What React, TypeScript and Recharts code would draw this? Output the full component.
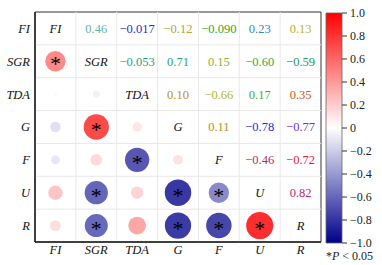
import React from "react";
import {
  ScatterChart,
  Scatter,
  XAxis,
  YAxis,
  ReferenceLine,
  ReferenceArea,
  BarChart,
  Bar,
} from "recharts";

const labels = ["FI", "SGR", "TDA", "G", "F", "U", "R"];

const corr = [
  [1, 0.46, -0.017, -0.12, -0.09, 0.23, 0.13],
  [0.46, 1, -0.053, 0.71, 0.15, -0.6, -0.59],
  [-0.017, -0.053, 1, 0.1, -0.66, 0.17, 0.35],
  [-0.12, 0.71, 0.1, 1, 0.11, -0.78, -0.77],
  [-0.09, 0.15, -0.66, 0.11, 1, -0.46, -0.72],
  [0.23, -0.6, 0.17, -0.78, -0.46, 1, 0.82],
  [0.13, -0.59, 0.35, -0.77, -0.72, 0.82, 1],
];

// significance (p < 0.05), lower triangle [row, col]
const significant = [
  [1, 0],
  [3, 1],
  [4, 2],
  [5, 1],
  [6, 1],
  [5, 3],
  [6, 3],
  [5, 4],
  [6, 4],
  [6, 5],
];

// colours of the numbers in the upper triangle [row][col]
const textColors = [
  ["", "#62b5a0", "#2c2cd0", "#b4a43a", "#2ea82e", "#2f86c8", "#c2b040"],
  ["", "", "#1fa08e", "#2a9e80", "#8eb030", "#3aa83a", "#1e9470"],
  ["", "", "", "#c09020", "#b4b430", "#3cb030", "#c85a20"],
  ["", "", "", "", "#b8901c", "#2c2cd8", "#7030c8"],
  ["", "", "", "", "", "#b02c64", "#e0203c"],
  ["", "", "", "", "", "", "#b82878"],
  ["", "", "", "", "", "", ""],
];

const cbTicks = [-1, -0.8, -0.6, -0.4, -0.2, 0, 0.2, 0.4, 0.6, 0.8, 1];
const cbData = [{ k: "cb", v: [-1, 1] }];

const FONT = "'Liberation Serif', 'Times New Roman', serif";
const centers = [0.5, 1.5, 2.5, 3.5, 4.5, 5.5, 6.5];
const bounds = [1, 2, 3, 4, 5, 6];

function colorFor(r: number): string {
  const clamp = Math.max(-1, Math.min(1, r));
  let R: number, G: number, B: number;
  if (clamp >= 0) {
    R = 255;
    G = 255 * (1 - clamp);
    B = 255 * (1 - clamp);
  } else {
    const t = -clamp;
    R = 255 * (1 - t);
    G = 255 * (1 - t);
    B = 255 * (1 - t) + 139 * t;
  }
  return `rgb(${Math.round(R)},${Math.round(G)},${Math.round(B)})`;
}

function fmt(v: number): string {
  return v.toPrecision(2).replace("-", "\u2212");
}

const cells: any[] = [];
corr.forEach((row, i) =>
  row.forEach((v, j) => {
    cells.push({
      x: j + 0.5,
      y: i + 0.5,
      i,
      j,
      v,
      sig: significant.some((s) => s[0] === i && s[1] === j),
    });
  })
);

const CellShape = (props: any) => {
  const { cx, cy, payload } = props;
  if (cx == null || cy == null) return null;
  const { i, j, v, sig } = payload;
  if (i === j) {
    return (
      <text
        x={cx}
        y={cy}
        dy="0.35em"
        textAnchor="middle"
        fontFamily={FONT}
        fontStyle="italic"
        fontSize={12.5}
        fill="#111"
      >
        {labels[i]}
      </text>
    );
  }
  if (i < j) {
    return (
      <text
        x={cx}
        y={cy}
        dy="0.35em"
        textAnchor="middle"
        fontFamily={FONT}
        fontSize={12.5}
        fill={textColors[i][j]}
      >
        {fmt(v)}
      </text>
    );
  }
  const rad = 15 * Math.sqrt(Math.abs(v));
  return (
    <g>
      <circle cx={cx} cy={cy} r={rad} fill={colorFor(v)} />
      {sig && (
        <text
          x={cx}
          y={cy + 10}
          textAnchor="middle"
          fontFamily={FONT}
          fontSize={22}
          fill="#000"
        >
          *
        </text>
      )}
    </g>
  );
};

const tickStyle = {
  fontFamily: FONT,
  fontStyle: "italic",
  fontSize: 12.5,
  fill: "#111",
};

export default function App() {
  return (
    <div
      style={{
        position: "absolute",
        left: 0,
        top: 0,
        width: 382,
        height: 265,
        background: "#fff",
      }}
    >
      <div style={{ position: "absolute", left: 0, top: 0 }}>
        <ScatterChart
          width={382}
          height={265}
          margin={{ top: 12, right: 61, bottom: 0, left: 0 }}
        >
          <XAxis
            type="number"
            dataKey="x"
            domain={[0, 7]}
            ticks={centers}
            tickFormatter={(v: number) => labels[Math.floor(v)]}
            tick={tickStyle}
            tickLine={false}
            tickSize={2}
            tickMargin={1}
            height={23}
            axisLine={{ stroke: "#222", strokeWidth: 1.5 }}
            allowDataOverflow
          />
          <YAxis
            type="number"
            dataKey="y"
            domain={[0, 7]}
            reversed
            ticks={centers}
            tickFormatter={(v: number) => labels[Math.floor(v)]}
            tick={tickStyle}
            tickLine={false}
            tickSize={3}
            tickMargin={2}
            width={35}
            axisLine={{ stroke: "#222", strokeWidth: 1.5 }}
            allowDataOverflow
          />
          {bounds.map((b) => (
            <ReferenceLine key={"vx" + b} x={b} stroke="#e8e8e8" strokeWidth={1} />
          ))}
          {bounds.map((b) => (
            <ReferenceLine key={"hy" + b} y={b} stroke="#e8e8e8" strokeWidth={1} />
          ))}
          <ReferenceArea
            x1={0}
            x2={7}
            y1={0}
            y2={7}
            fill="none"
            fillOpacity={0}
            stroke="#333"
            strokeWidth={1}
          />
          <Scatter data={cells} shape={CellShape} isAnimationActive={false} />
        </ScatterChart>
      </div>
      <div style={{ position: "absolute", left: 0, top: 0 }}>
        <BarChart
          width={382}
          height={265}
          data={cbData}
          margin={{ top: 13, right: 0, bottom: 22, left: 326 }}
          barCategoryGap={0}
          barGap={0}
        >
          <defs>
            <linearGradient id="cbGrad" x1="0" y1="0" x2="0" y2="1">
              <stop offset="0%" stopColor="#ff0000" />
              <stop offset="50%" stopColor="#ffffff" />
              <stop offset="100%" stopColor="#00008b" />
            </linearGradient>
          </defs>
          <XAxis dataKey="k" hide />
          <YAxis
            orientation="right"
            type="number"
            domain={[-1, 1]}
            ticks={cbTicks}
            interval={0}
            width={40}
            tickSize={5}
            tickMargin={3}
            tickLine={{ stroke: "#333" }}
            axisLine={false}
            tickFormatter={(v: number) =>
              v === 0 ? "0" : v.toFixed(1).replace("-", "\u2212")
            }
            tick={{ fontFamily: FONT, fontSize: 12, fill: "#222", textAnchor: "start" }}
          />
          <Bar
            dataKey="v"
            fill="url(#cbGrad)"
            stroke="#666"
            strokeWidth={0.8}
            isAnimationActive={false}
          />
        </BarChart>
      </div>
      <div
        style={{
          position: "absolute",
          left: 326,
          top: 250,
          fontFamily: FONT,
          fontSize: 12,
          lineHeight: "12px",
          color: "#222",
          whiteSpace: "nowrap",
        }}
      >
        *<i>P</i> &lt; 0.05
      </div>
    </div>
  );
}
